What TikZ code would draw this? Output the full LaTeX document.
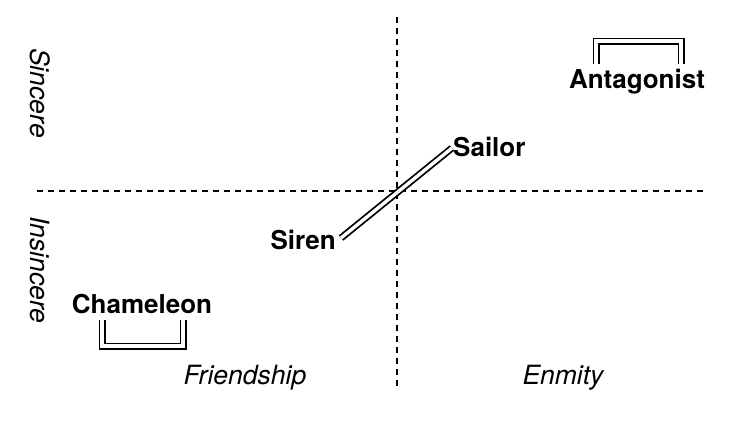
\documentclass[tikz,border=0pt]{standalone}
\usepackage{fontspec}
\setmainfont{TeX Gyre Heros}
\usetikzlibrary{positioning}
\tikzset{
  axisline/.style={black, line width=1.2pt, dash pattern=on 6pt off 5pt},
  pairline/.style={double, double distance=3.4pt, line width=1.8pt},
  rolelabel/.style={font=\fontsize{26}{30}\selectfont\bfseries, inner sep=1pt},
  quadlabel/.style={font=\fontsize{26.5}{31}\selectfont\itshape, inner sep=1pt}
}

\begin{document}
\begin{tikzpicture}[x=1pt, y=-1pt]
\useasboundingbox (0,0) rectangle (737,421);

% Axes
\coordinate (xleft) at (37,191);
\coordinate (xright) at (705,191);
\coordinate (ytop) at (397,17);
\coordinate (ybottom) at (397,388);
\draw[axisline] (xleft) -- (xright);
\draw[axisline] (ytop) -- (ybottom);

% Axis labels
\node[quadlabel, rotate=-90] (sincere) at (40,93) {Sincere};
\node[quadlabel, rotate=-90] (insincere) at (40,270) {Insincere};
\node[quadlabel] (friendship) at (245,378) {Friendship};
\node[quadlabel] (enmity) at (563,378) {Enmity};

% Roles
\node[rolelabel] (antagonist) at (637,82) {Antagonist};
\node[rolelabel, anchor=west] (sailor) at (452,147) {Sailor};
\node[rolelabel, anchor=east] (siren) at (337,240) {Siren};
\node[rolelabel] (chameleon) at (142,304) {Chameleon};

% Links
\draw[pairline] (siren.east) ++(4,-2) coordinate (sirenend)
  (sirenend) -- (sailor.west |- 0,148);
\coordinate (antl) at (596,64);
\coordinate (antr) at (681,64);
\draw[pairline] (antl) -- (antl |- 0,41) -- (antr |- 0,41) -- (antr);
\coordinate (chal) at (102,320);
\coordinate (char) at (183,320);
\draw[pairline] (chal) -- (chal |- 0,346) -- (char |- 0,346) -- (char);

\end{tikzpicture}
\end{document}
